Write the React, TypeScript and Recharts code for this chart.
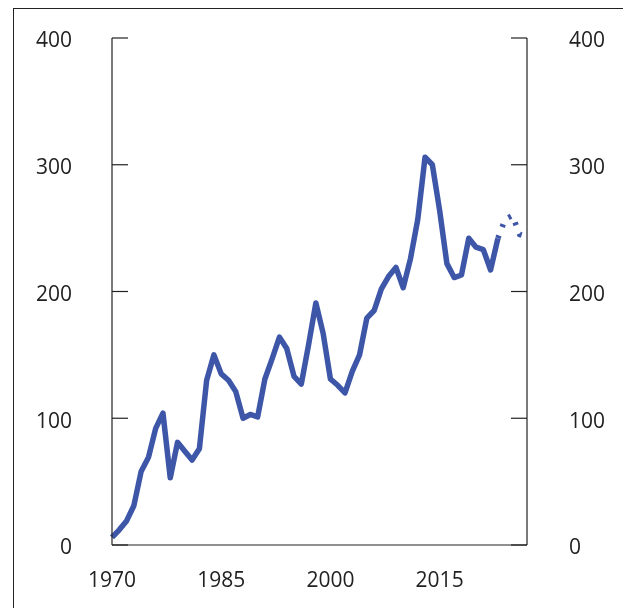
import React from "react";
import { LineChart, Line, XAxis, YAxis } from "recharts";

const years = [
  1970, 1971, 1972, 1973, 1974, 1975, 1976, 1977, 1978, 1979,
  1980, 1981, 1982, 1983, 1984, 1985, 1986, 1987, 1988, 1989,
  1990, 1991, 1992, 1993, 1994, 1995, 1996, 1997, 1998, 1999,
  2000, 2001, 2002, 2003, 2004, 2005, 2006, 2007, 2008, 2009,
  2010, 2011, 2012, 2013, 2014, 2015, 2016, 2017, 2018, 2019,
  2020, 2021, 2022, 2023,
];
const actual = [
  6, 12, 19, 31, 58, 69, 92, 104, 53, 81,
  74, 67, 76, 130, 150, 135, 130, 121, 100, 103,
  101, 131, 147, 164, 155, 133, 127, 158, 191, 167,
  131, 126, 120, 137, 150, 179, 185, 202, 212, 219,
  203, 226, 257, 306, 300, 264, 222, 211, 213, 242,
  235, 233, 217, 242,
];
const forecastYears = [2023, 2024, 2025, 2026, 2027];
const forecast = [242, 257, 260, 245, 243];

const xTicks = [1970, 1985, 2000, 2015];
const yTicks = [0, 100, 200, 300, 400];

const data = [
  ...years.map((year, i) => ({ year, actual: actual[i] as number | undefined, forecast: undefined as number | undefined })),
  ...forecastYears.slice(1).map((year) => ({ year, actual: undefined as number | undefined, forecast: undefined as number | undefined })),
];
forecastYears.forEach((y, i) => {
  const row = data.find((d) => d.year === y);
  if (row) row.forecast = forecast[i];
});

const FONT = "'Open Sans', 'Noto Sans', sans-serif";
const INK = "#222";
const BLUE = "#3d56a8";

const tickStyle = { fill: INK, fontSize: 21, fontFamily: FONT };
const yTickStyle = { ...tickStyle, dy: 2 };

export default function App() {
  return (
    <div style={{ position: "relative", width: 615, height: 592 }}>
      <div
        style={{
          position: "fixed",
          left: 13,
          top: 8,
          width: 610,
          height: 600,
          borderLeft: `1.5px solid ${INK}`,
          borderTop: `1.5px solid ${INK}`,
          boxSizing: "border-box",
        }}
      />
      <LineChart
        width={615}
        height={592}
        data={data}
        margin={{ top: 30, right: 0, bottom: 0, left: 0 }}
        style={{ position: "absolute", left: 0, top: 0 }}
      >
        <XAxis
          dataKey="year"
          type="number"
          domain={[1970, 2027]}
          ticks={xTicks}
          tickLine={false}
          tickSize={0}
          tickMargin={27}
          tick={tickStyle}
          axisLine={{ stroke: INK, strokeWidth: 1.2 }}
          height={55}
          interval={0}
        />
        <YAxis
          yAxisId="left"
          orientation="left"
          domain={[0, 400]}
          ticks={yTicks}
          width={104}
          tickSize={-16}
          tickMargin={56}
          tickLine={{ stroke: INK, strokeWidth: 1.2 }}
          tick={yTickStyle}
          axisLine={{ stroke: INK, strokeWidth: 1.2 }}
          interval={0}
        />
        <YAxis
          yAxisId="right"
          orientation="right"
          domain={[0, 400]}
          ticks={yTicks}
          width={96}
          tickSize={-16}
          tickMargin={58}
          tickLine={{ stroke: INK, strokeWidth: 1.2 }}
          tick={yTickStyle}
          axisLine={{ stroke: INK, strokeWidth: 1.2 }}
          interval={0}
        />
        <Line
          yAxisId="left"
          dataKey="actual"
          stroke={BLUE}
          strokeWidth={5.5}
          dot={false}
          strokeLinejoin="round"
          isAnimationActive={false}
        />
        <Line
          yAxisId="right"
          dataKey="forecast"
          stroke={BLUE}
          strokeWidth={5.5}
          strokeDasharray="3 9"
          dot={false}
          isAnimationActive={false}
        />
      </LineChart>
    </div>
  );
}
